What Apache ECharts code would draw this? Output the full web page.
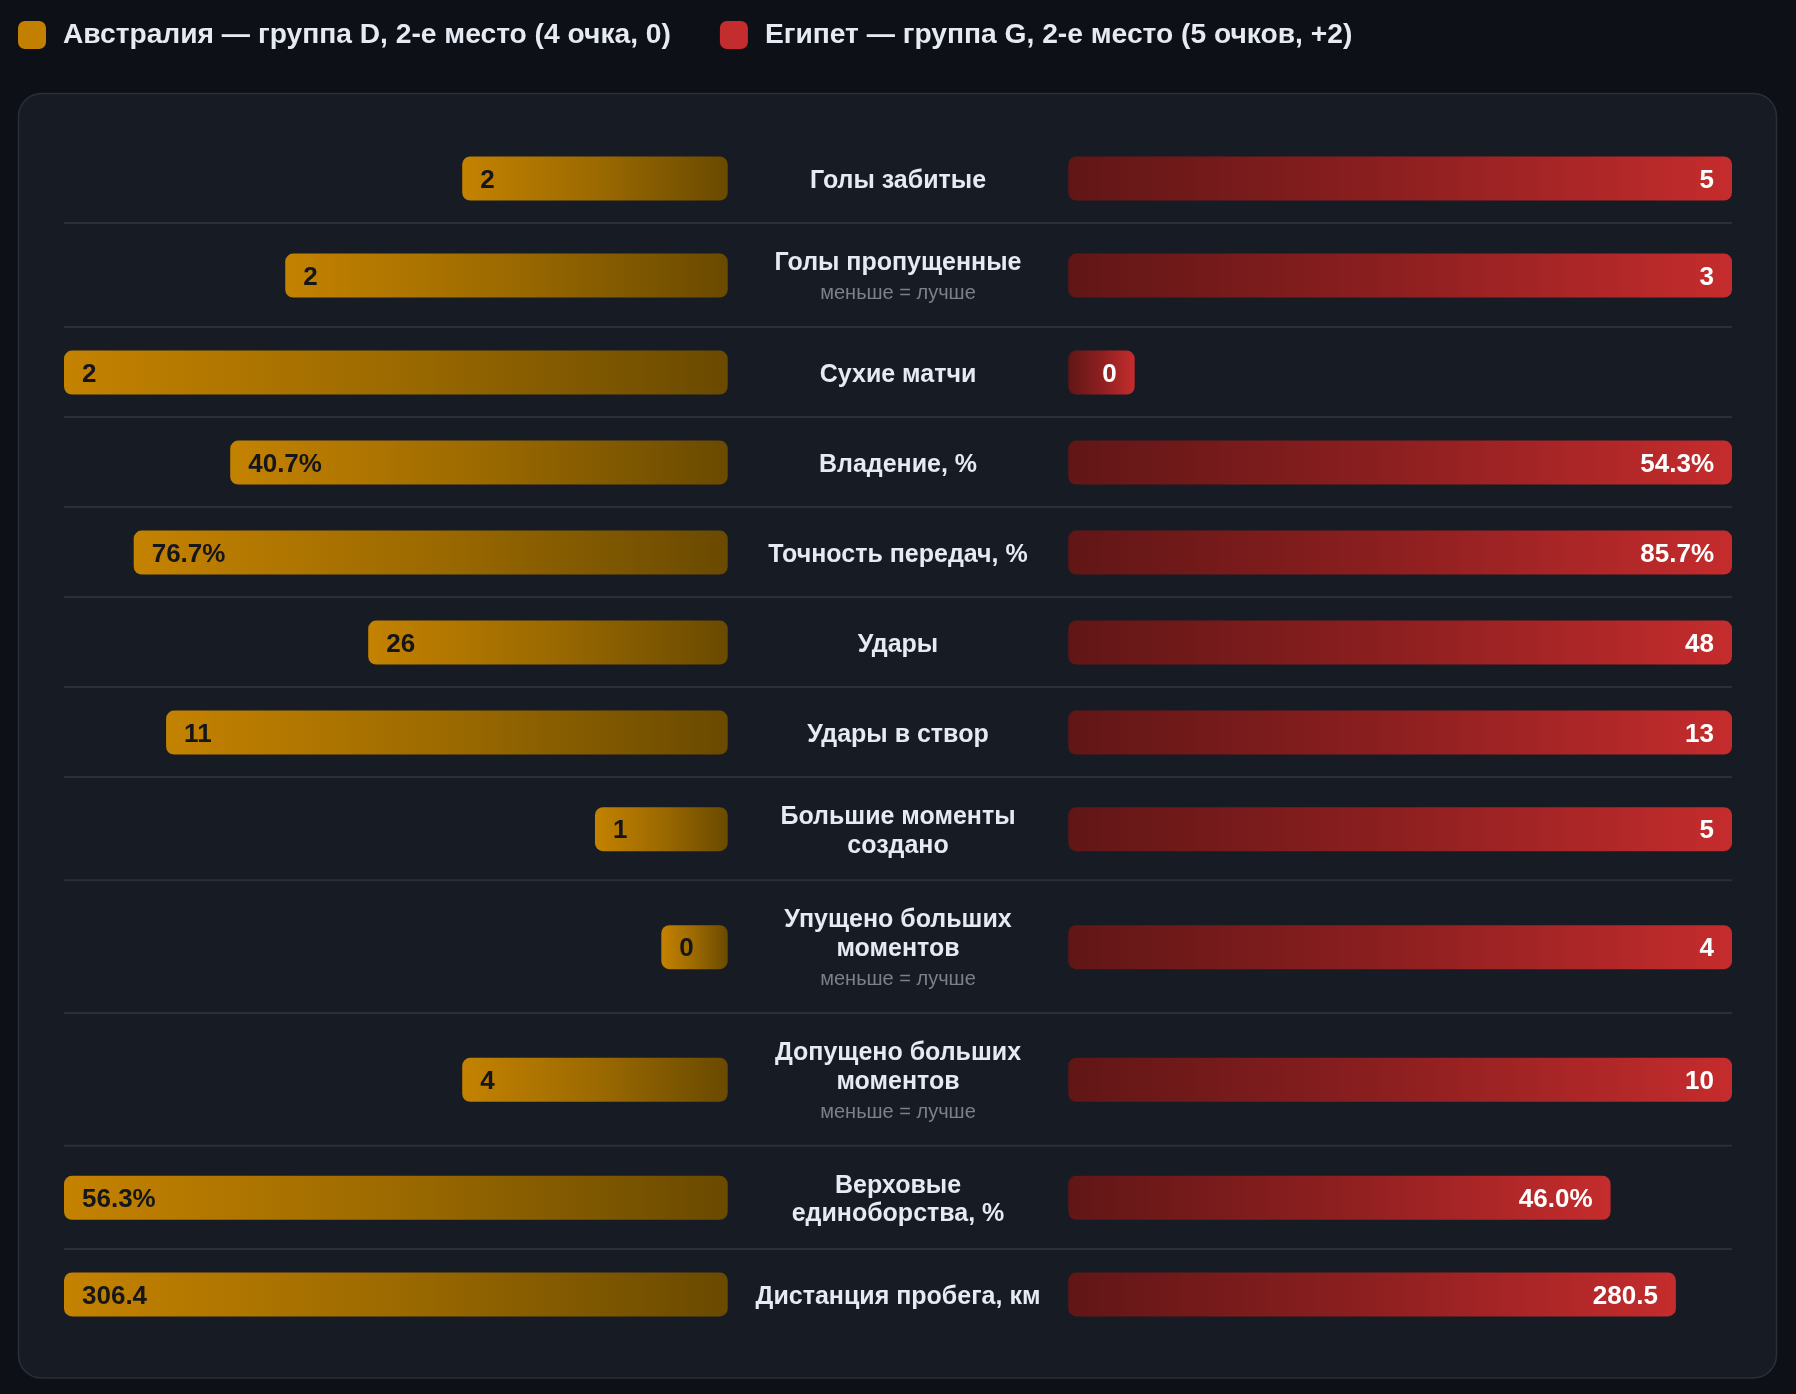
<!DOCTYPE html>
<html>
<head>
<meta charset="utf-8">
<script src="https://cdn.jsdelivr.net/npm/echarts@6/dist/echarts.min.js"></script>
<style>
  html, body { margin: 0; padding: 0; background: #0d1016; }
  #chart { width: 1796px; height: 1394px; }
</style>
</head>
<body>
<div id="chart"></div>
<script>
// команды
const teams = [
  'Австралия — группа D, 2-е место (4 очка, 0)',
  'Египет — группа G, 2-е место (5 очков, +2)'
]
const metrics = [
  'Голы забитые',
  'Голы пропущенные',
  'Сухие матчи',
  'Владение, %',
  'Точность передач, %',
  'Удары',
  'Удары в створ',
  'Большие моменты\nсоздано',
  'Упущено больших\nмоментов',
  'Допущено больших\nмоментов',
  'Верховые\nединоборства, %',
  'Дистанция пробега, км'
]
const lowerIsBetter = [false, true, false, false, false, false, false, false, true, true, false, false]
const australia = [2, 2, 2, 40.7, 76.7, 26, 11, 1, 0, 4, 56.3, 306.4]
const egypt = [5, 3, 0, 54.3, 85.7, 48, 13, 5, 4, 10, 46.0, 280.5]
const decimals = [0, 0, 0, 1, 1, 0, 0, 0, 0, 0, 1, 1]
const suffix = ['', '', '', '%', '%', '', '', '', '', '', '%', '']
const lowerNote = 'меньше = лучше'

const FONT = '"Liberation Sans", Arial, Helvetica, sans-serif'
const teamColors = ['#c27f00', '#c42d2d']

// раскладка
const ROW_TOP = 133.5, PAD = 23, BAR_H = 44, LINE_H = 28.6, SUB_H = 29.5
const LEFT_X = 64, SIDE_W = 663.7, RIGHT_X = 1068.3, MID_X = 898
const MIN_FRAC = 0.1
const TEXT_SHIFT = 2.5

const goldGrad = new echarts.graphic.LinearGradient(0, 0, 1, 0, [
  { offset: 0, color: '#c48200' },
  { offset: 0.5, color: '#9c6a00' },
  { offset: 1, color: '#6a4a00' }
])
const redGrad = new echarts.graphic.LinearGradient(0, 0, 1, 0, [
  { offset: 0, color: '#611616' },
  { offset: 0.5, color: '#8e1f20' },
  { offset: 1, color: '#c52c2d' }
])

function fmt(v, i) {
  return v.toFixed(decimals[i]) + suffix[i]
}

const grids = [], xAxes = [], yAxes = [], series = []
const graphics = [{
  type: 'rect',
  shape: { x: 18.5, y: 93.5, width: 1758, height: 1284.5, r: 23 },
  style: { fill: '#171b23', stroke: '#2a2f39', lineWidth: 1.5 },
  z: -10
}]

let y = ROW_TOP
metrics.forEach((name, i) => {
  const lines = name.split('\n').length
  const block = lines * LINE_H + (lowerIsBetter[i] ? SUB_H : 0)
  const h = Math.max(BAR_H, block) + 2 * PAD
  const cy = y + h / 2
  const rowMax = Math.max(australia[i], egypt[i])

  ;[0, 1].forEach(side => {
    const k = i * 2 + side
    const v = side === 0 ? australia[i] : egypt[i]
    grids.push({ left: side === 0 ? LEFT_X : RIGHT_X, width: SIDE_W, top: cy - BAR_H / 2, height: BAR_H })
    xAxes.push({ gridIndex: k, type: 'value', min: 0, max: rowMax, inverse: side === 0, show: false })
    yAxes.push({ gridIndex: k, type: 'category', data: [name], show: false })
    series.push({
      type: 'bar',
      name: teams[side],
      xAxisIndex: k,
      yAxisIndex: k,
      barWidth: BAR_H,
      data: [Math.max(v, rowMax * MIN_FRAC)],
      itemStyle: { color: side === 0 ? goldGrad : redGrad, borderRadius: 8 },
      label: {
        show: true,
        position: side === 0 ? 'insideLeft' : 'insideRight',
        distance: 18,
        offset: [0, 2],
        formatter: () => fmt(v, i),
        color: side === 0 ? '#14161a' : '#ffffff',
        fontSize: 26,
        fontWeight: 'bold',
        fontFamily: FONT
      }
    })
  })

  // подпись по центру
  const top = cy - block / 2 + TEXT_SHIFT
  graphics.push({
    type: 'text',
    style: {
      text: name, x: MID_X, y: top, align: 'center', verticalAlign: 'top',
      lineHeight: LINE_H, fill: '#e6ebf3', fontSize: 25, fontWeight: 'bold', fontFamily: FONT
    }
  })
  if (lowerIsBetter[i]) {
    graphics.push({
      type: 'text',
      style: {
        text: lowerNote, x: MID_X, y: top + lines * LINE_H + 16, align: 'center', verticalAlign: 'middle',
        fill: '#7b8089', fontSize: 20, fontFamily: FONT
      }
    })
  }

  y += h
  if (i < metrics.length - 1) {
    graphics.push({
      type: 'line',
      shape: { x1: LEFT_X, y1: y - 0.5, x2: RIGHT_X + SIDE_W, y2: y - 0.5 },
      style: { stroke: '#2a2f38', lineWidth: 2 }
    })
  }
})

const chart = echarts.init(document.getElementById('chart'))
chart.setOption({
  backgroundColor: '#0d1016',
  animation: false,
  legend: {
    left: 18,
    top: 21,
    padding: 0,
    itemWidth: 28,
    itemHeight: 28,
    itemGap: 49,
    icon: 'roundRect',
    selectedMode: false,
    data: teams.map((t, j) => ({ name: t, itemStyle: { color: teamColors[j] } })),
    textStyle: { color: '#e6ebf3', fontSize: 28.2, fontWeight: 'bold', fontFamily: FONT, padding: [0, 0, 0, 12] }
  },
  grid: grids,
  xAxis: xAxes,
  yAxis: yAxes,
  series: series,
  graphic: graphics
})
</script>
</body>
</html>
